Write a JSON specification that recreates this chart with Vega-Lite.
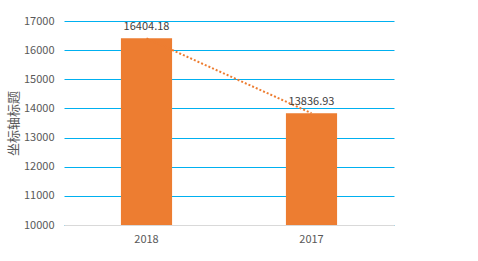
{
  "$schema": "https://vega.github.io/schema/vega-lite/v6.json",
  "autosize": {"type": "none"},
  "padding": {"left": 64, "top": 21, "right": 84, "bottom": 36},
  "width": 330,
  "height": 204,
  "background": "white",
  "config": {
    "view": {"stroke": null},
    "font": "Noto Sans CJK SC",
    "axis": {"labelFont": "Noto Sans CJK SC", "titleFont": "Noto Sans CJK SC"}
  },
  "data": {
    "values": [
      {"year": "2018", "value": 16404.18, "label": "16404.18"},
      {"year": "2017", "value": 13836.93, "label": "13836.93"}
    ]
  },
  "encoding": {
    "x": {
      "field": "year",
      "type": "nominal",
      "sort": null,
      "scale": {"type": "band", "paddingInner": 0, "paddingOuter": 0},
      "axis": {
        "title": null,
        "labelAngle": 0,
        "ticks": false,
        "domainColor": "#d9d9d9",
        "domainWidth": 1,
        "labelColor": "#595959",
        "labelFontSize": 11,
        "labelPadding": 8,
        "grid": false
      }
    },
    "y": {
      "field": "value",
      "type": "quantitative",
      "scale": {"domain": [10000, 17000], "nice": false, "zero": false},
      "axis": {
        "title": "坐标轴标题",
        "titleColor": "#595959",
        "titleFontSize": 13,
        "titleFontWeight": "normal",
        "titlePadding": 3,
        "values": [10000, 11000, 12000, 13000, 14000, 15000, 16000, 17000],
        "format": "d",
        "domain": false,
        "ticks": false,
        "labelColor": "#595959",
        "labelFontSize": 11,
        "labelPadding": 10,
        "grid": true,
        "gridColor": "#00B0F0",
        "gridWidth": 1
      }
    }
  },
  "layer": [
    {
      "mark": {"type": "bar", "color": "#ED7D31", "width": {"band": 0.31}},
      "encoding": {"y2": {"datum": 10000}}
    },
    {
      "mark": {"type": "line", "color": "#ED7D31", "strokeWidth": 2, "strokeDash": [2, 2]},
      "encoding": {}
    },
    {
      "mark": {"type": "text", "baseline": "bottom", "dy": -6, "fontSize": 11, "color": "#404040"},
      "encoding": {"text": {"field": "label"}}
    }
  ]
}
